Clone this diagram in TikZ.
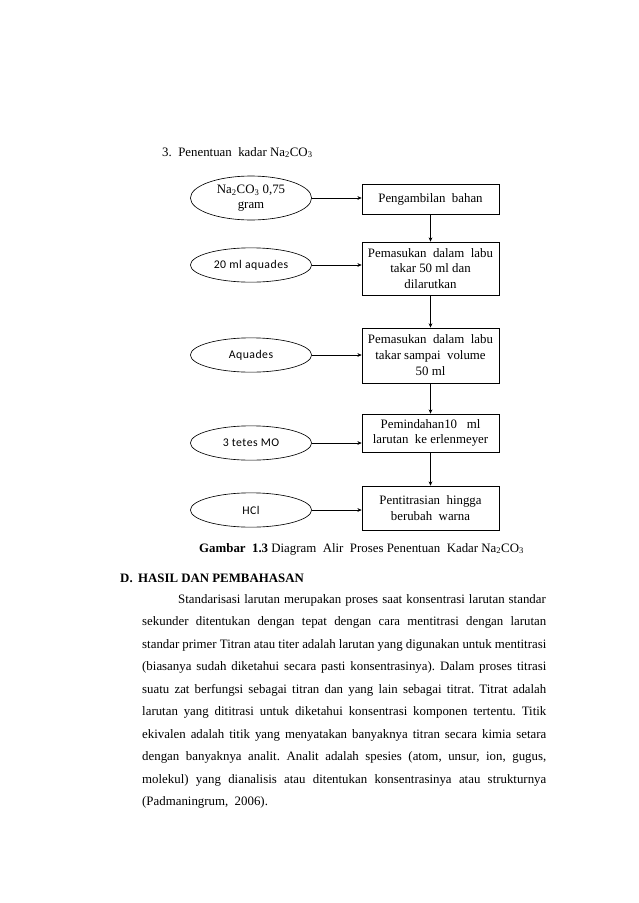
\documentclass[tikz,border=0pt]{standalone}
\usepackage{fontspec}
\setmainfont{Liberation Serif}
\newfontfamily\ovalfont{Carlito}[LetterSpace=4]
\usepackage{tikz}
\usetikzlibrary{positioning,arrows.meta,shapes.geometric}
\frenchspacing
\tikzset{
  prc/.style={draw,line width=0.6pt,align=center,minimum width=127.8pt,inner sep=1pt,font=\fontsize{12}{14.5}\selectfont},
  bhn/.style={draw,line width=0.6pt,ellipse,align=center,minimum width=113pt,minimum height=32pt,inner sep=0pt,font=\ovalfont\fontsize{11}{13}\selectfont},
  arr/.style={-{Stealth[length=4pt,width=3.5pt]},line width=0.6pt},
}

\begin{document}
\begin{tikzpicture}[x=0.933pt,y=-0.933pt,
   txt/.style={anchor=base west,inner sep=0pt,font=\fontsize{12}{14}\selectfont}]
  \useasboundingbox (0,0) rectangle (638,903);
  \node[txt] (judul) at (162,156) {3.\hspace{6pt}Penentuan\ \ kadar Na\textsubscript{2}CO\textsubscript{3}};
  \node[bhn,minimum height=41pt,font=\fontsize{12}{14.5}\selectfont] (e1) at (251,198) {Na\textsubscript{2}CO\textsubscript{3} 0,75\\gram};
  \node[bhn] (e2) at (251,265) {20 ml aquades};
  \node[bhn] (e3) at (251,355) {Aquades};
  \node[bhn] (e4) at (251,443) {3 tetes MO};
  \node[bhn] (e5) at (251,510) {HCl};
  \node[prc,minimum height=28pt] (b1) at (430.5,199) {Pengambilan\ \ bahan};
  \node[prc,minimum height=49.5pt] (b2) at (430.5,268.5) {Pemasukan\ \ dalam\ \ labu\\takar 50 ml dan\\dilarutkan};
  \node[prc,minimum height=51.5pt] (b3) at (430.5,355.5) {Pemasukan\ \ dalam\ \ labu\\takar sampai\ \ volume\\[1pt]50 ml};
  \node[prc,minimum height=35.5pt] (b4) at (430.5,433) {Pemindahan10\ \ \ ml\\larutan\ \ ke erlenmeyer};
  \node[prc,minimum height=41pt] (b5) at (430.5,508) {Pentitrasian\ \ hingga\\berubah\ \ warna};
  \foreach \a/\b in {b1/b2,b2/b3,b3/b4,b4/b5} \draw[arr] (\a) -- (\b);
  \foreach \i in {1,...,5} \draw[arr] (e\i.east) -- (e\i.east -| b\i.west);
  \node[txt] (cap) at (199,552) {\textbf{Gambar\ \ 1.3} Diagram\ \ Alir\ \ Proses Penentuan\ \ Kadar Na\textsubscript{2}CO\textsubscript{3}};
  \node[txt,font=\bfseries\fontsize{12}{14}\selectfont] (bab) at (120,582) {D.\hspace{5pt}HASIL DAN PEMBAHASAN};
  \node[txt] (p1) at (178,603) {\makebox[343pt][s]{Standarisasi larutan merupakan proses saat konsentrasi larutan standar}};
  \foreach \baris [count=\i] in {
    {sekunder ditentukan dengan tepat dengan cara mentitrasi dengan larutan},
    {standar primer Titran atau titer adalah larutan yang digunakan untuk mentitrasi},
    {(biasanya sudah diketahui secara pasti konsentrasinya). Dalam proses titrasi},
    {suatu zat berfungsi sebagai titran dan yang lain sebagai titrat. Titrat adalah},
    {larutan yang dititrasi untuk diketahui konsentrasi komponen tertentu. Titik},
    {ekivalen adalah titik yang menyatakan banyaknya titran secara kimia setara},
    {dengan banyaknya analit. Analit adalah spesies (atom, unsur, ion, gugus,},
    {molekul) yang dianalisis atau ditentukan konsentrasinya atau strukturnya}}
    \node[txt] (p\i) at (142,{603+22.5*\i}) {\makebox[377pt][s]{\baris}};
  \node[txt] (p10) at (142,805.5) {(Padmaningrum,\ \ 2006).};
\end{tikzpicture}
\end{document}
